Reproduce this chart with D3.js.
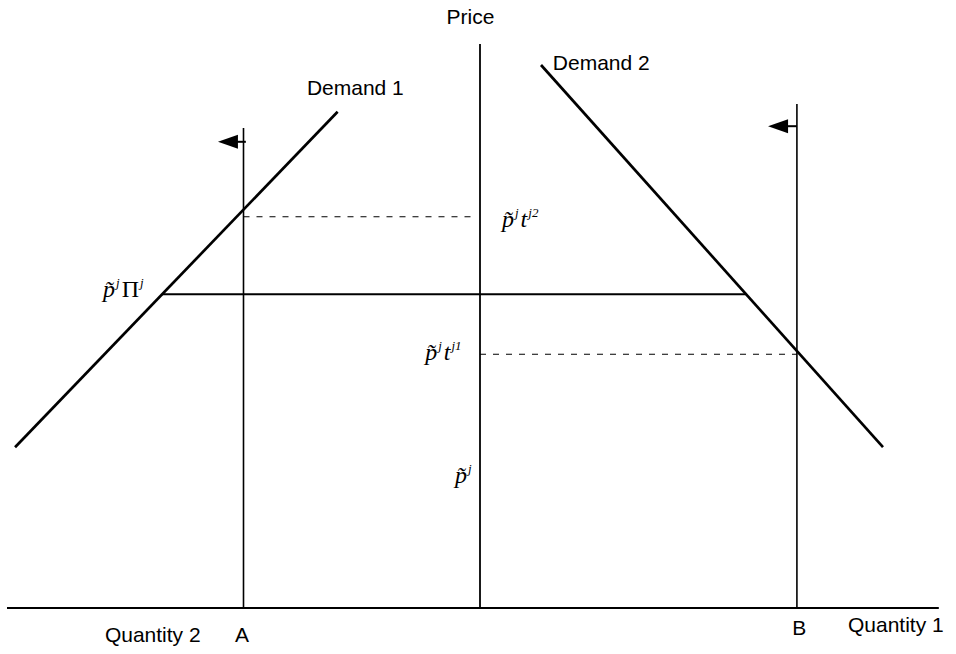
<!DOCTYPE html>
<html><head><meta charset="utf-8">
<script src="https://cdn.jsdelivr.net/npm/d3@7"></script>
<style>body{margin:0;background:#fff}svg{display:block}</style>
</head><body>
<script>
// Axes / guide lines (quantity units: left of price axis = Quantity 2, right = Quantity 1)
const axisQ = [-100, 97];          // horizontal quantity axis extent
const priceAxisTop = 94;           // vertical price axis height
const verticals = [ {name:"A", q:-50, top:80}, {name:"B", q:67, top:84} ];
// Demand curves (endpoints in quantity/price units)
const demand1 = [[-98.3, 26.8], [-30.1, 82.7]];
const demand2 = [[12.9, 90.5], [85.2, 26.8]];
// Horizontal price levels
const solidLevel = {p:52.3, q0:-67.3, q1:56.2};
const dashedLevels = [ {p:65.2, q0:-50, q1:-1}, {p:42.3, q0:0, q1:67} ];
// Arrows (shift leftwards)
const arrows = [ {p:77.7, q0:-49.5, q1:-55.4}, {p:80.3, q0:67, q1:60.9} ];
// Text labels
const textLabels = [
  {t:"Price", q:-2, p:97.3, anchor:"middle"},
  {t:"Demand 1", q:-36.6, p:85.5},
  {t:"Demand 2", q:15.4, p:89.7},
  {t:"Quantity 2", q:-79.3, p:-5.7},
  {t:"A", q:-51.8, p:-5.7},
  {t:"B", q:66, p:-4.5},
  {t:"Quantity 1", q:77.8, p:-4}
];
// Math labels: parts [text, kind] kind: b=base italic, u=upright, s=superscript
const mathLabels = [
  {q:4.65, p:63.5, parts:[["p\u0303","b"],["j","s"],["t","b"],["j2","s"]]},
  {q:-11.6, p:41.3, parts:[["p\u0303","b"],["j","s"],["t","b"],["j1","s"]]},
  {q:-79.7, p:51.8, parts:[["p\u0303","b"],["j","s"],["\u03A0","u"],["j","s"]]},
  {q:-5.3, p:20.8, parts:[["p\u0303","b"],["j","s"]]}
];

const W = 956, H = 654;
const x = d3.scaleLinear().domain([-100, 100]).range([7, 953]);
const y = d3.scaleLinear().domain([0, 100]).range([608, 8]);

const svg = d3.select("body").append("svg").attr("width", W).attr("height", H);
const line = d3.line().x(d => x(d[0])).y(d => y(d[1]));

// quantity axis
svg.append("path").attr("d", line([[axisQ[0],0],[axisQ[1],0]]))
  .attr("stroke","#000").attr("stroke-width",2).attr("fill","none");
// price axis
svg.append("path").attr("d", line([[0,0],[0,priceAxisTop]]))
  .attr("stroke","#000").attr("stroke-width",1.8).attr("fill","none");
// verticals A, B
svg.selectAll(".vert").data(verticals).enter().append("path")
  .attr("d", d => line([[d.q,0],[d.q,d.top]]))
  .attr("stroke","#000").attr("stroke-width",1.6).attr("fill","none");
// solid horizontal
svg.append("path").attr("d", line([[solidLevel.q0,solidLevel.p],[solidLevel.q1,solidLevel.p]]))
  .attr("stroke","#000").attr("stroke-width",2).attr("fill","none");
// dashed
svg.selectAll(".dash").data(dashedLevels).enter().append("path")
  .attr("d", d => line([[d.q0,d.p],[d.q1,d.p]]))
  .attr("stroke","#000").attr("stroke-width",1.1).attr("stroke-dasharray","6,7").attr("fill","none");
// demand curves
[demand1, demand2].forEach(dm => {
  svg.append("path").attr("d", line(dm))
    .attr("stroke","#000").attr("stroke-width",2.7).attr("fill","none");
});
// arrows
arrows.forEach(a => {
  const yy = y(a.p), xs = x(a.q0), xt = x(a.q1);
  svg.append("line").attr("x1", xs).attr("x2", xt + 15).attr("y1", yy).attr("y2", yy)
    .attr("stroke","#000").attr("stroke-width",2);
  svg.append("path").attr("d", `M${xt},${yy}L${xt+20},${yy-7}L${xt+20},${yy+7}Z`).attr("fill","#000");
});
// text labels
svg.selectAll(".lbl").data(textLabels).enter().append("text")
  .attr("x", d => x(d.q)).attr("y", d => y(d.p))
  .attr("text-anchor", d => d.anchor || "start")
  .attr("font-family","'Liberation Sans', Arial, sans-serif").attr("font-size",21)
  .attr("fill","#000").text(d => d.t);
// math labels
mathLabels.forEach(m => {
  const t = svg.append("text").attr("x", x(m.q)).attr("y", y(m.p))
    .attr("font-family","'Liberation Serif','Times New Roman',serif").attr("fill","#000");
  let raised = false;
  m.parts.forEach(([s,k]) => {
    const ts = t.append("tspan").text(s);
    if (k === "s") {
      ts.attr("font-size",13).attr("font-style","italic").attr("dy", raised ? 0 : -10).attr("dx",1);
      raised = true;
    } else {
      ts.attr("font-size",24).attr("font-style", k === "b" ? "italic" : "normal").attr("dy", raised ? 10 : 0).attr("dx", raised ? 2 : 0);
      raised = false;
    }
  });
});
</script>
</body></html>
